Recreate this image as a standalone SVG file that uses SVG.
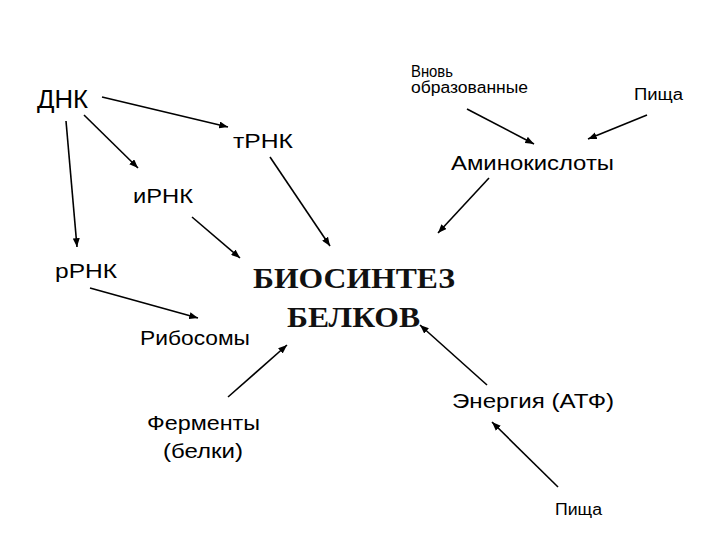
<svg xmlns="http://www.w3.org/2000/svg" width="720" height="540" viewBox="0 0 720 540">
<style>
.t{font-family:"Liberation Sans",Arial,sans-serif;fill:#000}
.b{font-family:"Liberation Serif","Times New Roman",serif;font-weight:bold;fill:#111}
.c line{stroke:#000;stroke-width:1.6;marker-end:url(#ah)}
</style>
<defs>
<marker id="ah" viewBox="0 0 10 8" refX="10" refY="4" markerWidth="5.5" markerHeight="4.5" orient="auto" markerUnits="strokeWidth">
<path d="M0,0L10,4L0,8z" fill="#000"/>
</marker>
</defs>
<rect width="720" height="540" fill="#fff"/>
<g id="dnk"><text class="t" x="37" y="108" font-size="25" textLength="51" lengthAdjust="spacingAndGlyphs">ДНК</text></g>
<g id="trnk"><text class="t" x="233" y="148" font-size="20" textLength="60" lengthAdjust="spacingAndGlyphs">тРНК</text></g>
<g id="vnov"><text class="t" x="411" y="77" font-size="16" textLength="42" lengthAdjust="spacingAndGlyphs">Вновь</text><text class="t" x="411" y="93" font-size="16" textLength="117" lengthAdjust="spacingAndGlyphs">образованные</text></g>
<g id="pishcha1"><text class="t" x="634" y="100" font-size="16" textLength="49" lengthAdjust="spacingAndGlyphs">Пища</text></g>
<g id="amino"><text class="t" x="451" y="170" font-size="20" textLength="163" lengthAdjust="spacingAndGlyphs">Аминокислоты</text></g>
<g id="irnk"><text class="t" x="133" y="203" font-size="20" textLength="60" lengthAdjust="spacingAndGlyphs">иРНК</text></g>
<g id="rrnk"><text class="t" x="55" y="278" font-size="20" textLength="62" lengthAdjust="spacingAndGlyphs">рРНК</text></g>
<g id="bio"><text class="b" x="253" y="288" font-size="30" textLength="202" lengthAdjust="spacingAndGlyphs">БИОСИНТЕЗ</text><text class="b" x="287" y="327" font-size="30" textLength="133" lengthAdjust="spacingAndGlyphs">БЕЛКОВ</text></g>
<g id="ribo"><text class="t" x="140" y="345" font-size="20" textLength="110" lengthAdjust="spacingAndGlyphs">Рибосомы</text></g>
<g id="ferm"><text class="t" x="147" y="430" font-size="20" textLength="113" lengthAdjust="spacingAndGlyphs">Ферменты</text><text class="t" x="163" y="458" font-size="20" textLength="80" lengthAdjust="spacingAndGlyphs">(белки)</text></g>
<g id="energy"><text class="t" x="452" y="408" font-size="20" textLength="162" lengthAdjust="spacingAndGlyphs">Энергия (АТФ)</text></g>
<g id="pishcha2"><text class="t" x="555" y="515" font-size="16" textLength="47" lengthAdjust="spacingAndGlyphs">Пища</text></g>
<g id="connectors" class="c">
<line x1="102" y1="97" x2="228" y2="127"/>
<line x1="84" y1="115" x2="138" y2="168"/>
<line x1="66" y1="121" x2="77" y2="247"/>
<line x1="270" y1="157" x2="330" y2="246"/>
<line x1="192" y1="217" x2="240" y2="258"/>
<line x1="489" y1="178" x2="438" y2="233"/>
<line x1="467" y1="109" x2="534" y2="144"/>
<line x1="647" y1="115" x2="588" y2="139"/>
<line x1="90" y1="288" x2="198" y2="318"/>
<line x1="228" y1="397" x2="287" y2="345"/>
<line x1="487" y1="385" x2="420" y2="325"/>
<line x1="558" y1="487" x2="492" y2="422"/>
</g>
</svg>
